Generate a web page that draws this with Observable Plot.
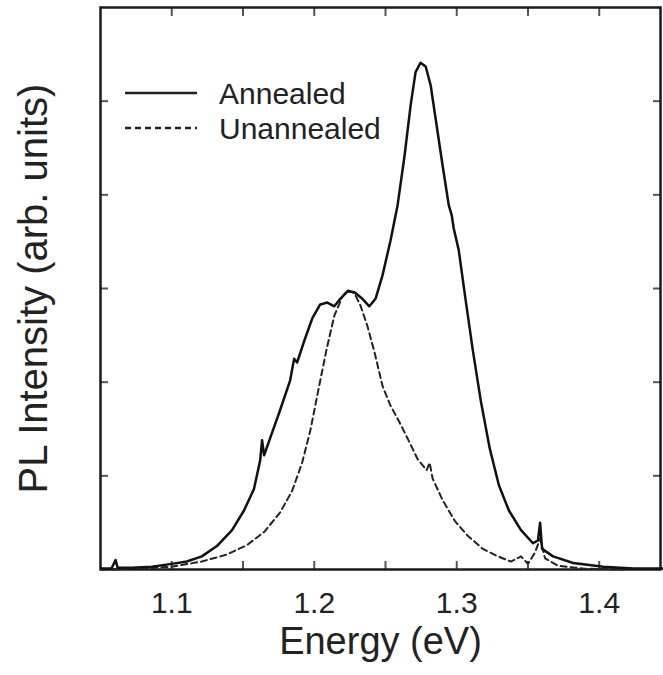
<!DOCTYPE html>
<html>
<head>
<meta charset="utf-8">
<script src="https://cdn.jsdelivr.net/npm/d3@7"></script>
<script src="https://cdn.jsdelivr.net/npm/@observablehq/plot@0.6"></script>
<style>
  html, body { margin: 0; padding: 0; background: #fff; }
  #wrap { position: relative; width: 663px; height: 675px; font-family: "Liberation Sans", Arial, sans-serif; }
  #legend { position: absolute; left: 0; top: 0; pointer-events: none; }
</style>
</head>
<body>
<div id="wrap"></div>
<script>
// ---- data ----
const annealedEnergy = [1.0507,1.0577,1.0606,1.062,1.0718,1.0859,1.1,1.1106,1.1211,1.1317,1.1423,1.1507,1.1577,1.162,1.1634,1.1648,1.169,1.176,1.1831,1.1859,1.188,1.193,1.1986,1.2042,1.2092,1.2141,1.2183,1.2232,1.2282,1.2338,1.2387,1.243,1.2479,1.2535,1.2585,1.2634,1.2676,1.2711,1.2746,1.2782,1.2817,1.2859,1.2901,1.2944,1.2965,1.2979,1.3014,1.3063,1.3113,1.3169,1.3232,1.3296,1.3366,1.3451,1.3535,1.357,1.3585,1.3599,1.3676,1.3817,1.4028,1.4239,1.445];
const annealedIntensity = [0.01,0.01,0.10,0.02,0.02,0.03,0.06,0.085,0.14,0.25,0.42,0.63,0.86,1.16,1.38,1.22,1.40,1.70,2.02,2.25,2.21,2.44,2.68,2.83,2.85,2.81,2.89,2.97,2.96,2.89,2.81,2.89,3.14,3.51,3.89,4.42,4.95,5.31,5.41,5.37,5.17,4.74,4.31,3.89,3.78,3.64,3.41,2.87,2.34,1.80,1.29,0.90,0.63,0.42,0.28,0.31,0.50,0.22,0.14,0.07,0.03,0.01,0.01];
const unannealedEnergy = [1.0507,1.0789,1.1,1.1211,1.1387,1.1528,1.1648,1.1761,1.1845,1.1915,1.1972,1.2028,1.2085,1.2141,1.2197,1.2239,1.2282,1.2324,1.2373,1.2423,1.2479,1.2535,1.2592,1.2655,1.2725,1.2789,1.281,1.2831,1.2901,1.2986,1.3077,1.3183,1.3289,1.338,1.3451,1.35,1.3549,1.3585,1.362,1.3711,1.3887,1.4169];
const unannealedIntensity = [0,0.01,0.03,0.085,0.16,0.26,0.40,0.61,0.84,1.14,1.48,1.91,2.34,2.71,2.91,2.98,2.95,2.82,2.60,2.32,1.96,1.75,1.59,1.40,1.18,1.06,1.14,0.97,0.74,0.52,0.36,0.22,0.14,0.085,0.14,0.06,0.18,0.33,0.12,0.04,0.01,0];
const xMajorTicks = [1.1, 1.2, 1.3, 1.4];
const xMinorTicks = [1.1, 1.15, 1.2, 1.25, 1.3, 1.35, 1.4];
const yTicks = [1, 2, 3, 4, 5];
const seriesNames = ["Annealed", "Unannealed"];
const xLabel = "Energy (eV)";
const yLabel = "PL Intensity (arb. units)";

const annealed = annealedEnergy.map((e, i) => ({e, v: annealedIntensity[i]}));
const unannealed = unannealedEnergy.map((e, i) => ({e, v: unannealedIntensity[i]}));

const FONT = "Liberation Sans, Arial, sans-serif";
const tickColor = "#555";

const chart = Plot.plot({
  width: 663,
  height: 675,
  marginLeft: 100,
  marginRight: 3,
  marginTop: 7,
  marginBottom: 106,
  style: {fontFamily: FONT, background: "#fff", color: "#222"},
  x: {domain: [1.05, 1.443]},
  y: {domain: [0, 6]},
  marks: [
    Plot.axisX({anchor: "bottom", ticks: xMinorTicks, tickSize: -8, tickFormat: () => "", label: null, stroke: tickColor, strokeWidth: 2}),
    Plot.axisX({anchor: "top", ticks: xMinorTicks, tickSize: -8, tickFormat: () => "", label: null, stroke: tickColor, strokeWidth: 2}),
    Plot.axisX({anchor: "bottom", ticks: xMajorTicks, tickSize: 0, tickPadding: 22, tickFormat: d3.format(".1f"), fontSize: 30, fill: "#222", label: null}),
    Plot.axisY({anchor: "left", ticks: yTicks, tickSize: -8, tickFormat: () => "", label: null, stroke: tickColor, strokeWidth: 2}),
    Plot.axisY({anchor: "right", ticks: yTicks, tickSize: -8, tickFormat: () => "", label: null, stroke: tickColor, strokeWidth: 2}),
    Plot.frame({stroke: "#1a1a1a", strokeWidth: 2.5}),
    Plot.line(unannealed, {x: "e", y: "v", stroke: "#222", strokeWidth: 2, strokeDasharray: "6,4"}),
    Plot.line(annealed, {x: "e", y: "v", stroke: "#111", strokeWidth: 2.5}),
    Plot.text([xLabel], {text: d => d, frameAnchor: "bottom", dy: 84, fontSize: 38, fill: "#222"}),
    Plot.text([yLabel], {text: d => d, frameAnchor: "left", textAnchor: "middle", dx: -66, rotate: -90, fontSize: 40, fill: "#222"})
  ]
});
document.getElementById("wrap").appendChild(chart);

// legend overlay
const ns = "http://www.w3.org/2000/svg";
const leg = document.createElementNS(ns, "svg");
leg.setAttribute("id", "legend");
leg.setAttribute("width", 663);
leg.setAttribute("height", 200);
const rows = [
  {name: seriesNames[0], y: 93, dash: null, w: 2.5},
  {name: seriesNames[1], y: 128, dash: "6,4", w: 2.5}
];
rows.forEach(r => {
  const ln = document.createElementNS(ns, "line");
  ln.setAttribute("x1", 125); ln.setAttribute("x2", 197);
  ln.setAttribute("y1", r.y); ln.setAttribute("y2", r.y);
  ln.setAttribute("stroke", "#222"); ln.setAttribute("stroke-width", r.w);
  if (r.dash) ln.setAttribute("stroke-dasharray", r.dash);
  leg.appendChild(ln);
  const t = document.createElementNS(ns, "text");
  t.setAttribute("x", 219); t.setAttribute("y", r.y);
  t.setAttribute("dominant-baseline", "central");
  t.setAttribute("font-family", FONT);
  t.setAttribute("font-size", 30);
  t.setAttribute("fill", "#222");
  t.textContent = r.name;
  leg.appendChild(t);
});
document.getElementById("wrap").appendChild(leg);
</script>
</body>
</html>
